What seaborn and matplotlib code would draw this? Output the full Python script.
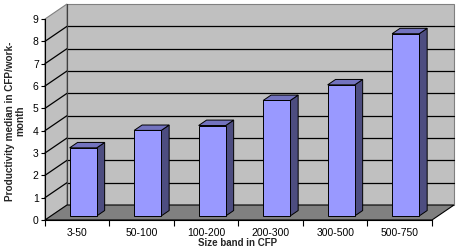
import numpy as np
import matplotlib
matplotlib.use("Agg")
import matplotlib.pyplot as plt
import seaborn as sns
import pandas as pd
from matplotlib.patches import Polygon

categories = ["3-50", "50-100", "100-200", "200-300", "300-500", "500-750"]
values = [3.05, 3.83, 4.05, 5.17, 5.87, 8.16]
y_ticks = list(range(0, 10))
x_title = "Size band in CFP"
y_title = "Productivity median in CFP/work-\nmonth"

sns.set_theme(style="white")
plt.rcParams['font.family'] = ['Liberation Sans', 'DejaVu Sans']

W, H = 460, 250
fig = plt.figure(figsize=(W / 100, H / 100), dpi=100)
ax = fig.add_axes([45 / W, 1 - 220 / H, 387 / W, 201 / H])
ax.patch.set_visible(False)

df = pd.DataFrame({"band": categories, "value": values})
n = len(categories)
ymax = 9

sns.barplot(data=df, x="band", y="value", order=categories, color="#9999FF",
            saturation=1, width=0.42, edgecolor="black", linewidth=0.7, ax=ax, zorder=3)
bars = list(ax.patches)

# oblique depth in data units
DX = 22 / (387 / n)
DY = 15 / (201 / ymax)
d0 = 0.27   # front face depth
bd = 0.36   # bar depth

x0, x1 = -0.5, n - 0.5
wall = "#C0C0C0"
border = "#808080"

# back wall
ax.add_patch(Polygon([(x0 + DX, DY), (x1 + DX, DY), (x1 + DX, ymax + DY), (x0 + DX, ymax + DY)],
                     closed=True, facecolor=wall, edgecolor=border, lw=0.8, clip_on=False, zorder=0.1))
# side wall
ax.add_patch(Polygon([(x0, 0), (x0 + DX, DY), (x0 + DX, ymax + DY), (x0, ymax)],
                     closed=True, facecolor=wall, edgecolor=border, lw=0.8, clip_on=False, zorder=0.1))
# gridlines
for k in y_ticks[1:-1]:
    ax.plot([x0 + DX, x1 + DX], [k + DY, k + DY], color="black", lw=0.9, clip_on=False, zorder=0.2)
    ax.plot([x0, x0 + DX], [k, k + DY], color="black", lw=0.9, clip_on=False, zorder=0.2)
ax.plot([x0 + DX, x0 + DX], [DY, ymax + DY], color="#404040", lw=0.8, clip_on=False, zorder=0.25)
# floor
ax.add_patch(Polygon([(x0, 0), (x1, 0), (x1 + DX, DY), (x0 + DX, DY)],
                     closed=True, facecolor="#808080", edgecolor="black", lw=0.8, clip_on=False, zorder=0.3))

# 3D bars
for p in bars:
    x = p.get_x() + d0 * DX
    w = p.get_width()
    h = p.get_height()
    y0 = d0 * DY
    p.set_x(x)
    p.set_y(y0)
    p.set_height(h)
    ddx, ddy = bd * DX, bd * DY
    ax.add_patch(Polygon([(x + w, y0), (x + w + ddx, y0 + ddy), (x + w + ddx, y0 + h + ddy), (x + w, y0 + h)],
                         closed=True, facecolor="#4D4D80", edgecolor="black", lw=0.7, clip_on=False, zorder=2.9))
    ax.add_patch(Polygon([(x, y0 + h), (x + ddx, y0 + h + ddy), (x + w + ddx, y0 + h + ddy), (x + w, y0 + h)],
                         closed=True, facecolor="#7373BF", edgecolor="black", lw=0.7, clip_on=False, zorder=2.9))

ax.set_xlim(x0, x1)
ax.set_ylim(0, ymax)
ax.set_yticks(y_ticks)
ax.set_xticks(range(n))
ax.set_xticklabels(categories)
ax.set_xticks(np.arange(x0, x1 + 0.01, 1), minor=True)
ax.tick_params(axis="y", which="major", left=True, length=3, width=0.8, direction="out",
               labelsize=7.5, pad=1.5, colors="black")
ax.tick_params(axis="x", which="major", bottom=True, length=0, labelsize=7.5, pad=6, colors="black")
ax.tick_params(axis="x", which="minor", bottom=True, length=4, width=0.8, direction="out", colors="black")
ax.set_xlabel("")
ax.set_ylabel("")
for s in ["top", "right"]:
    ax.spines[s].set_visible(False)
for s in ["left", "bottom"]:
    ax.spines[s].set_color("black")
    ax.spines[s].set_linewidth(0.8)
    ax.spines[s].set_zorder(4)

fig.text(238 / W, 1.5 / H, x_title, ha="center", va="bottom", fontsize=7, fontweight="bold")
fig.text(15 / W, 1 - 121 / H, y_title, ha="center", va="center", rotation=90,
         multialignment="center", fontsize=7.2, fontweight="bold", linespacing=1.1)

fig.savefig("out.png", dpi=100, facecolor="white")
